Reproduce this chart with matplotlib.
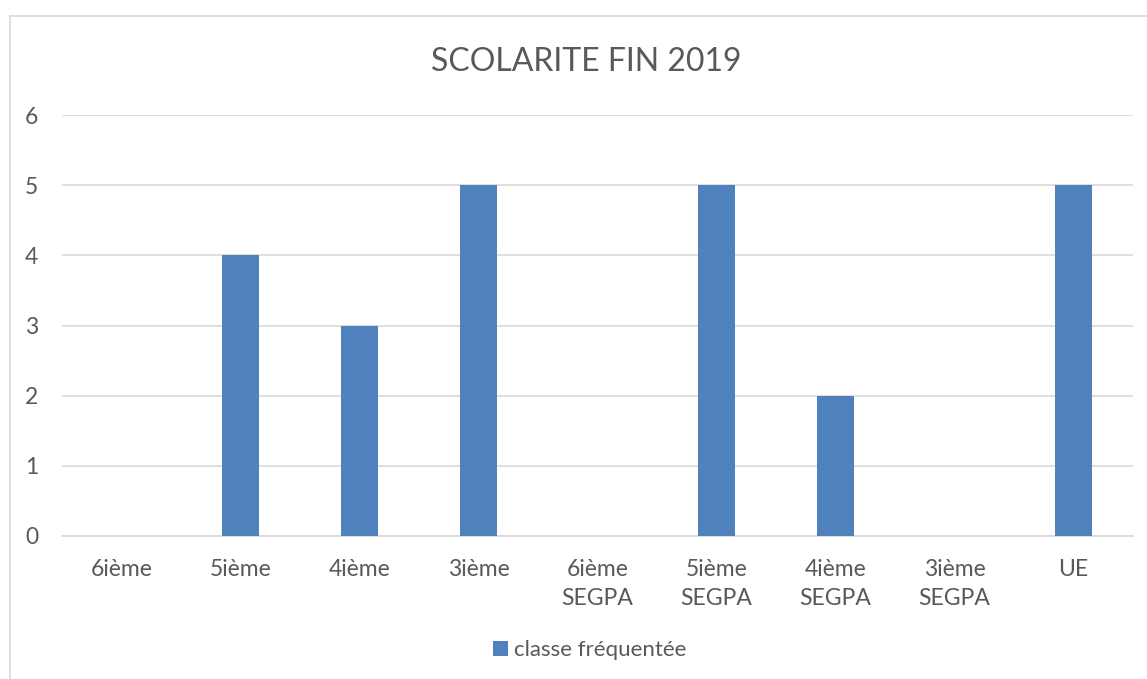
import matplotlib
matplotlib.use("Agg")
import matplotlib.pyplot as plt
from matplotlib.lines import Line2D

plt.rcParams['font.family'] = ['Lato', 'DejaVu Sans']

categories = ["6ième", "5ième", "4ième", "3ième", "6ième\nSEGPA",
              "5ième\nSEGPA", "4ième\nSEGPA", "3ième\nSEGPA", "UE"]
values = [0, 4, 3, 5, 0, 5, 2, 0, 5]
series_name = "classe fréquentée"

bar_color = "#4F81BD"
text_color = "#595959"
grid_color = "#D9D9D9"

W, H = 1147, 679
fig = plt.figure(figsize=(W / 100, H / 100), dpi=100)

# outer chart frame (only left and top visible in the crop)
fig.add_artist(Line2D([10 / W, 10 / W], [0, 1 - 16 / H], color=grid_color, lw=1.2))
fig.add_artist(Line2D([10 / W, 1], [1 - 16 / H, 1 - 16 / H], color=grid_color, lw=1.2))

ax = fig.add_axes([62 / W, 1 - 536 / H, (1133 - 62) / W, (536 - 115) / H])

x = range(len(categories))
ax.bar(x, values, width=0.31, color=bar_color, label=series_name, zorder=3)

ax.set_xlim(-0.5, len(categories) - 0.5)
ax.set_ylim(0, 6)
ax.set_yticks(range(0, 7))
ax.set_xticks(list(x))
ax.set_xticklabels(categories, linespacing=1.45)

ax.grid(axis='y', color=grid_color, lw=1.2, zorder=0)
for s in ['top', 'right', 'left']:
    ax.spines[s].set_visible(False)
ax.spines['bottom'].set_color(grid_color)
ax.spines['bottom'].set_linewidth(1.2)

ax.tick_params(axis='both', length=0, labelsize=16.5, labelcolor=text_color)
ax.tick_params(axis='x', pad=16.5)
ax.tick_params(axis='y', pad=17)

fig.text(586 / W, 1 - 62 / H, "SCOLARITE FIN 2019", ha='center', va='center',
         fontsize=23, color=text_color)

fig.legend(loc='center', bbox_to_anchor=(590 / W, 1 - 650 / H), frameon=False,
           fontsize=16, labelcolor=text_color, handlelength=0.65, handleheight=0.65,
           handletextpad=0.3)

fig.savefig("out.png", dpi=100)
